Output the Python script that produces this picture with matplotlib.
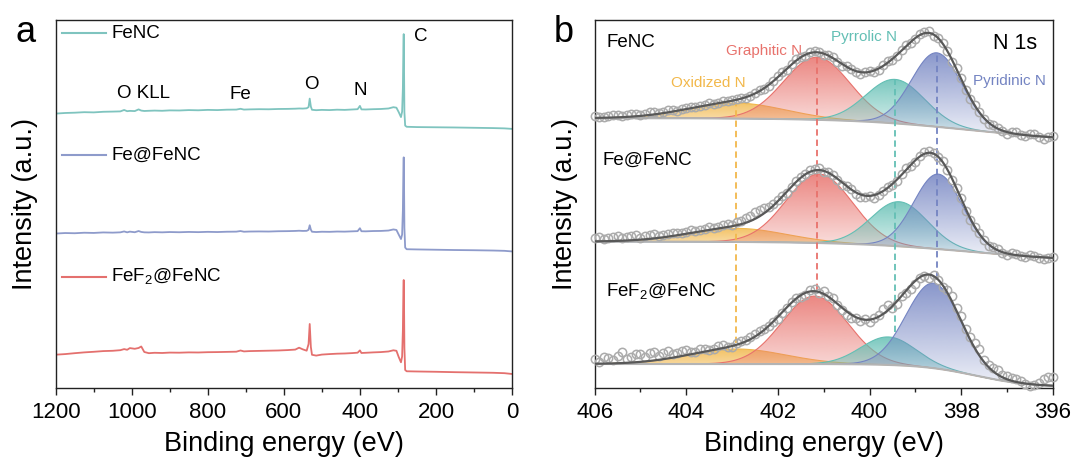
import numpy as np
import matplotlib
matplotlib.use("Agg")
import matplotlib.pyplot as plt
from matplotlib import colors as mcolors
from matplotlib.ticker import MultipleLocator

plt.rcParams['font.family'] = ['Liberation Sans', 'DejaVu Sans']
plt.rcParams['mathtext.fontset'] = 'custom'
plt.rcParams['mathtext.rm'] = 'Liberation Sans'

# ---------------- (a) survey spectra ----------------
survey_be = [1200, 1175, 1150, 1125, 1100, 1075, 1050, 1030, 1020, 1012, 1005, 992, 982, 975,
             967, 955, 940, 920, 900, 875, 850, 825, 800, 775, 750, 725, 714, 705, 690, 665,
             640, 615, 590, 570, 560, 550, 540, 535, 532, 529, 526, 515, 500, 480, 460, 440,
             420, 406, 400, 396, 385, 365, 345, 325, 312, 304, 298, 292, 289, 287, 285.7,
             284.8, 284, 283, 281, 277, 250, 200, 150, 100, 50, 20, 0]
survey_fenc = [274.5, 275.1, 275.4, 275.9, 275.7, 276.3, 276.5, 276.7, 278.1, 276.9, 277.2, 277.0,
               278.7, 277.5, 277.1, 277.3, 277.5, 277.3, 277.7, 277.6, 278.0, 277.8, 278.2, 278.0,
               278.4, 278.5, 279.3, 278.5, 278.7, 278.9, 278.8, 279.1, 279.2, 279.4, 279.6, 279.5,
               279.8, 281.0, 289.5, 281.5, 278.3, 277.9, 278.2, 278.0, 278.4, 278.2, 278.6, 278.9,
               282.2, 278.7, 278.6, 278.9, 279.1, 279.6, 280.9, 280.4, 276.0, 271.0, 276.5, 300.0,
               338.0, 354.0, 322.0, 276.0, 262.5, 261.3, 261.0, 260.8, 260.6, 260.3, 260.0, 259.7,
               259.2]
survey_fe_fenc = [154.5, 155.0, 154.8, 155.3, 155.1, 155.6, 155.4, 155.7, 156.6, 155.7, 156.4, 155.8,
                  157.0, 156.1, 155.7, 155.6, 155.9, 155.7, 156.0, 155.8, 156.1, 155.9, 156.2, 156.0,
                  156.3, 156.4, 157.0, 156.3, 156.5, 156.6, 156.5, 156.8, 156.9, 157.1, 157.3, 157.1,
                  157.2, 158.2, 162.8, 158.4, 156.3, 156.0, 156.3, 156.2, 156.5, 156.4, 156.7, 156.9,
                  159.8, 156.8, 156.7, 157.0, 157.1, 157.5, 158.6, 158.1, 153.5, 149.0, 153.5, 178.0,
                  216.0, 230.7, 206.0, 160.0, 140.5, 138.8, 138.6, 138.3, 138.0, 137.8, 137.5, 137.2,
                  136.6]
survey_fef2_fenc = [33.3, 33.9, 34.8, 35.6, 36.2, 36.9, 37.2, 37.8, 38.9, 38.2, 39.9, 39.2,
                    40.0, 41.5, 36.0, 34.8, 35.2, 35.0, 35.4, 35.3, 35.6, 35.5, 35.8, 35.9,
                    36.1, 36.3, 37.5, 36.6, 36.9, 37.1, 37.3, 37.5, 37.9, 38.4, 40.3, 38.6,
                    37.3, 44.0, 64.0, 41.0, 33.2, 32.4, 33.4, 33.9, 34.3, 34.5, 34.9, 35.3,
                    37.6, 35.0, 35.2, 35.6, 35.9, 36.5, 37.7, 37.2, 31.0, 25.7, 31.5, 58.0,
                    96.0, 108.0, 86.0, 40.0, 18.0, 16.7, 16.5, 16.2, 15.8, 15.5, 15.2, 14.8,
                    14.0]
sample_names = ['FeNC', 'Fe@FeNC', r'FeF$_{\mathregular{2}}$@FeNC']
sample_colors = ['#7FC4BF', '#8E9BCB', '#E4706E']

# ---------------- (b) N 1s high-resolution ----------------
n1s_be = [406.0, 405.9, 405.8, 405.7, 405.6, 405.5, 405.4, 405.3, 405.2, 405.1,
          405.0, 404.9, 404.8, 404.7, 404.6, 404.5, 404.4, 404.3, 404.2, 404.1,
          404.0, 403.9, 403.8, 403.7, 403.6, 403.5, 403.4, 403.3, 403.2, 403.1,
          403.0, 402.9, 402.8, 402.7, 402.6, 402.5, 402.4, 402.3, 402.2, 402.1,
          402.0, 401.9, 401.8, 401.7, 401.6, 401.5, 401.4, 401.3, 401.2, 401.1,
          401.0, 400.9, 400.8, 400.7, 400.6, 400.5, 400.4, 400.3, 400.2, 400.1,
          400.0, 399.9, 399.8, 399.7, 399.6, 399.5, 399.4, 399.3, 399.2, 399.1,
          399.0, 398.9, 398.8, 398.7, 398.6, 398.5, 398.4, 398.3, 398.2, 398.1,
          398.0, 397.9, 397.8, 397.7, 397.6, 397.5, 397.4, 397.3, 397.2, 397.1,
          397.0, 396.9, 396.8, 396.7, 396.6, 396.5, 396.4, 396.3, 396.2, 396.1,
          396.0]
n1s_fenc = [272.5, 271.5, 271.0, 272.0, 273.2, 273.5, 272.0, 273.0, 274.5, 274.0,
            273.0, 274.5, 276.0, 276.5, 275.0, 276.0, 278.0, 278.5, 277.5, 279.0,
            280.5, 281.5, 281.0, 282.0, 283.5, 285.0, 284.0, 285.0, 287.0, 287.5,
            288.0, 289.5, 290.5, 290.5, 292.0, 295.5, 298.5, 299.0, 302.0, 307.5,
            312.5, 316.0, 318.0, 324.0, 329.0, 331.5, 332.0, 336.0, 337.5, 336.0,
            333.0, 333.5, 331.5, 326.0, 322.5, 322.0, 319.5, 316.0, 314.5, 316.5,
            317.5, 316.0, 318.5, 323.5, 327.0, 328.5, 332.0, 338.5, 343.5, 345.5,
            349.0, 354.0, 356.5, 357.0, 352.5, 350.0, 345.5, 337.0, 326.5, 320.0,
            310.5, 298.5, 289.0, 283.5, 276.5, 269.5, 264.0, 263.0, 260.5, 257.0,
            254.5, 256.5, 256.0, 253.5, 252.0, 254.0, 254.5, 251.5, 249.0, 251.0,
            252.5]
n1s_fe_fenc = [150.5, 151.0, 149.0, 150.0, 151.5, 152.0, 150.0, 151.0, 152.5, 153.0,
               150.5, 152.0, 153.0, 154.0, 152.0, 153.5, 154.5, 155.5, 155.0, 155.5,
               156.5, 158.0, 157.0, 158.0, 159.5, 161.0, 160.0, 161.5, 163.0, 164.5,
               163.5, 166.0, 167.5, 170.5, 172.0, 176.0, 178.0, 180.0, 181.5, 184.0,
               188.5, 192.0, 195.5, 201.5, 207.5, 211.0, 214.5, 218.5, 219.5, 220.5,
               216.0, 216.5, 213.5, 208.0, 203.5, 202.0, 199.5, 194.5, 191.0, 191.5,
               192.5, 190.5, 193.0, 197.5, 201.5, 203.0, 207.0, 214.5, 220.0, 222.0,
               226.5, 232.0, 236.0, 237.5, 235.0, 231.5, 227.5, 218.0, 208.0, 200.0,
               190.5, 177.5, 168.0, 161.5, 155.5, 148.0, 142.5, 141.5, 139.0, 135.5,
               133.5, 135.5, 134.5, 132.5, 131.0, 133.0, 132.5, 130.0, 129.5, 130.5,
               131.0]
n1s_fef2_fenc = [28.5, 26.0, 31.0, 29.5, 27.5, 31.5, 36.0, 29.0, 30.5, 34.0,
                 33.5, 31.0, 35.0, 36.0, 32.0, 34.5, 36.5, 33.5, 35.0, 37.0,
                 37.5, 35.5, 36.0, 38.5, 39.0, 37.5, 38.5, 41.5, 42.5, 40.5,
                 41.0, 44.5, 46.5, 48.0, 50.5, 53.5, 57.0, 58.5, 61.5, 66.0,
                 69.5, 75.5, 80.0, 86.5, 90.5, 91.0, 93.5, 98.0, 99.0, 95.5,
                 97.0, 92.0, 90.5, 83.0, 78.0, 73.5, 70.5, 70.0, 67.0, 69.5,
                 66.0, 70.0, 73.0, 79.5, 83.5, 80.5, 84.0, 92.0, 95.5, 99.0,
                 104.0, 110.5, 112.5, 110.0, 113.5, 108.0, 101.0, 98.5, 92.5, 80.0,
                 72.0, 58.5, 51.0, 44.5, 38.5, 28.0, 23.0, 19.5, 17.5, 13.0,
                 12.0, 9.5, 9.0, 6.5, 4.0, 1.5, 2.5, 5.0, 8.5, 11.0,
                 10.5]

n_species = ['Oxidized N', 'Graphitic N', 'Pyrrolic N', 'Pyridinic N']
species_colors = ['#F2B84B', '#E8726C', '#63BFB4', '#7484C2']

# peak fits: centre (eV), height, FWHM (eV)
fenc_center = [402.92, 401.15, 399.44, 398.53]
fenc_height = [15.5, 62.5, 44.0, 74.0]
fenc_fwhm = [2.5, 1.7, 1.5, 1.3]
fe_fenc_center = [402.9, 401.1, 399.35, 398.5]
fe_fenc_height = [13.6, 69.0, 44.6, 75.0]
fe_fenc_fwhm = [2.5, 1.7, 1.45, 1.25]
fef2_fenc_center = [402.9, 401.2, 399.59, 398.6]
fef2_fenc_height = [15.0, 68.0, 28.0, 85.0]
fef2_fenc_fwhm = [2.5, 1.7, 1.4, 1.4]
# step background: high-BE level, low-BE level, step centre, step width
fenc_bg = [270.0, 246.0, 397.8, 1.3]
fe_fenc_bg = [146.5, 126.0, 397.8, 1.3]
fef2_fenc_bg = [24.0, 1.0, 397.7, 0.6]


def step_background(e, high, low, e0, width):
    return low + (high - low) / (1.0 + np.exp(-(e - e0) / width))


def gauss(e, c, h, w):
    return h * np.exp(-4.0 * np.log(2.0) * (e - c) ** 2 / w ** 2)


def gradient_fill(ax, x, lo, hi, color, zorder):
    poly = ax.fill_between(x, lo, hi, facecolor='none', edgecolor='none')
    img = np.zeros((256, 1, 4))
    img[..., :3] = mcolors.to_rgb(color)
    img[..., 3] = np.linspace(0.12, 0.85, 256)[:, None]
    im = ax.imshow(img, extent=[x.max(), x.min(), lo.min(), hi.max()], origin='lower',
                   aspect='auto', interpolation='bilinear', zorder=zorder)
    im.set_clip_path(poly.get_paths()[0], transform=ax.transData)
    ax.plot(x, hi, color=color, lw=0.8, zorder=zorder + 0.1)


def style_axes(ax, label_x):
    for sp in ax.spines.values():
        sp.set_linewidth(1.0)
        sp.set_color('#222222')
    ax.set_yticks([])
    ax.tick_params(axis='x', which='major', direction='out', length=4.8, width=1.0,
                   labelsize=16, pad=5, colors='#222222', labelcolor='black')
    ax.tick_params(axis='x', which='minor', direction='out', length=2.9, width=1.0,
                   colors='#222222')
    ax.set_xlabel('Binding energy (eV)', fontsize=19.5, labelpad=6)
    ax.set_ylabel('Intensity (a.u.)', fontsize=19.5)
    ax.yaxis.set_label_coords(label_x, 0.5)


fig = plt.figure(figsize=(10.75, 4.68), dpi=100)
ax_a = fig.add_axes([0.0518, 0.171, 0.4245, 0.786])
ax_b = fig.add_axes([0.5532, 0.171, 0.4261, 0.786])

# ---- panel a ----
legend_y = [0.964, 0.633, 0.302]
for ints, name, color, ly in zip([survey_fenc, survey_fe_fenc, survey_fef2_fenc],
                                 sample_names, sample_colors, legend_y):
    ax_a.plot(survey_be, ints, color=color, lw=1.3)
    ax_a.plot([0.013, 0.111], [ly, ly], transform=ax_a.transAxes, color=color, lw=1.5)
    ax_a.text(0.122, ly, name, transform=ax_a.transAxes, va='center', ha='left', fontsize=13.5)

ax_a.text(970, 295, 'O KLL', ha='center', va='center', fontsize=13.5)
ax_a.text(715, 294, 'Fe', ha='center', va='center', fontsize=13.5)
ax_a.text(527, 304, 'O', ha='center', va='center', fontsize=13.5)
ax_a.text(398, 298, 'N', ha='center', va='center', fontsize=13.5)
ax_a.text(241, 352, 'C', ha='center', va='center', fontsize=13.5)

ax_a.set_xlim(1200, 0)
ax_a.set_ylim(0, 368)
ax_a.xaxis.set_major_locator(MultipleLocator(200))
ax_a.xaxis.set_minor_locator(MultipleLocator(100))
style_axes(ax_a, -0.039)

# ---- panel b ----
e_fit = np.linspace(406, 396, 801)
fits = [
    (n1s_fenc, fenc_center, fenc_height, fenc_fwhm, fenc_bg),
    (n1s_fe_fenc, fe_fenc_center, fe_fenc_height, fe_fenc_fwhm, fe_fenc_bg),
    (n1s_fef2_fenc, fef2_fenc_center, fef2_fenc_height, fef2_fenc_fwhm, fef2_fenc_bg),
]
for data, centers, heights, widths, bgp in fits:
    bg = step_background(e_fit, *bgp)
    comps = [gauss(e_fit, c, h, w) for c, h, w in zip(centers, heights, widths)]
    for k, (comp, color) in enumerate(zip(comps, species_colors)):
        gradient_fill(ax_b, e_fit, bg, bg + comp, color, zorder=1 + 0.2 * k)
    ax_b.plot(e_fit, bg, color='#B4B4B4', lw=1.5, zorder=3)
    ax_b.plot(n1s_be, data, 'o', mfc='none', mec='#ABABAB', ms=6.0, mew=1.1,
              zorder=4, clip_on=False)
    ax_b.plot(e_fit, bg + sum(comps), color='#585858', lw=1.6, zorder=5)

# dashed guides from the FeNC component maxima down to the FeF2@FeNC components
for i, color in enumerate(species_colors):
    x0 = fenc_center[i]
    y_top = step_background(x0, *fenc_bg) + gauss(x0, fenc_center[i], fenc_height[i], fenc_fwhm[i])
    y_bot = (step_background(x0, *fef2_fenc_bg)
             + gauss(x0, fef2_fenc_center[i], fef2_fenc_height[i], fef2_fenc_fwhm[i]))
    ax_b.plot([x0, x0], [y_bot + 6, y_top], color=color, lw=1.3, ls=(0, (3.5, 2.2)), zorder=3.5)

ax_b.text(405.75, 346, 'FeNC', ha='left', va='center', fontsize=13.5)
ax_b.text(405.82, 227.5, 'Fe@FeNC', ha='left', va='center', fontsize=13.5)
ax_b.text(405.75, 96, sample_names[2], ha='left', va='center', fontsize=13.5)
ax_b.text(396.35, 345, 'N 1s', ha='right', va='center', fontsize=15.5)

species_xy = [(403.51, 305.5), (402.3, 336.7), (400.12, 351.5), (396.95, 307.3)]
for name, color, (x, y) in zip(n_species, species_colors, species_xy):
    ax_b.text(x, y, name, color=color, ha='center', va='center', fontsize=11)

ax_b.set_xlim(406, 396)
ax_b.set_ylim(0, 368)
ax_b.xaxis.set_major_locator(MultipleLocator(2))
ax_b.xaxis.set_minor_locator(MultipleLocator(1))
style_axes(ax_b, -0.037)

fig.text(15.4 / 1075, 1 - 41.7 / 468, 'a', fontsize=26, ha='left', va='baseline')
fig.text(553.7 / 1075, 1 - 41.7 / 468, 'b', fontsize=26, ha='left', va='baseline')

fig.savefig('out.png', dpi=100)
